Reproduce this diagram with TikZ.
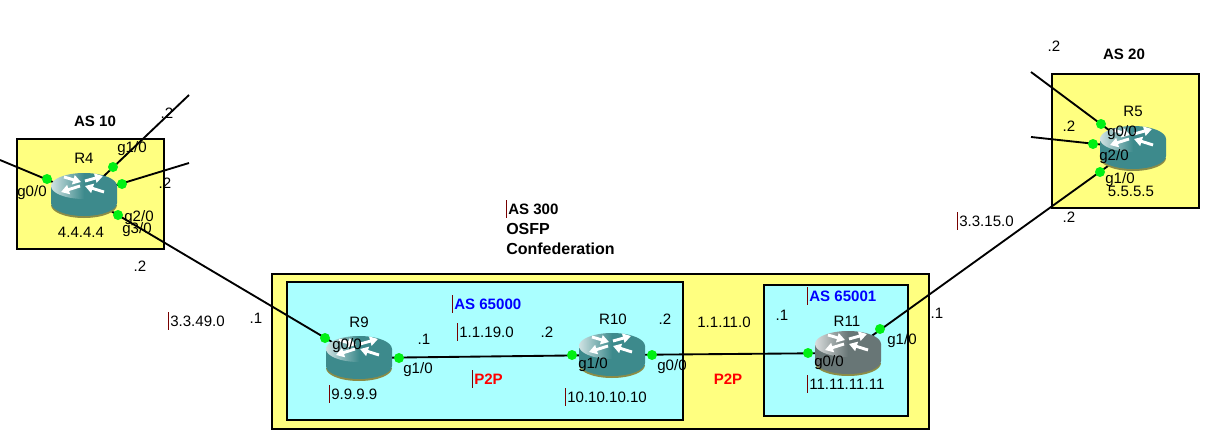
\documentclass[tikz,border=0pt]{standalone}
\usepackage{fontspec}
\setmainfont{Liberation Sans}
\usetikzlibrary{arrows.meta}
\definecolor{boxyellow}{RGB}{255,255,128}
\definecolor{boxcyan}{RGB}{170,255,255}
\definecolor{routerteal}{RGB}{61,138,140}
\definecolor{routergrey}{RGB}{104,118,118}
\definecolor{portgreen}{RGB}{0,240,20}
\definecolor{cursorred}{RGB}{120,0,0}
\newcommand{\curs}{\textcolor{cursorred}{\rule[-2.5pt]{0.5pt}{13pt}}\kern1pt}
\tikzset{
  area/.style={draw=black, line width=1.5pt, fill=#1},
  link/.style={draw=black, line width=1.4pt},
  port/.style={circle, fill=portgreen, inner sep=0pt, minimum size=7.5pt},
  lbl/.style={inner sep=0pt, font=\fontsize{11.3}{13}\selectfont},
  lblw/.style={lbl, anchor=west},
  head/.style={lbl, font=\fontsize{11.3}{13}\selectfont\bfseries},
  headw/.style={head, anchor=west},
  wide/.style={font=\fontsize{12}{14}\selectfont\bfseries},
  flow/.style={white, line width=2.2pt, -{Triangle[length=6pt,width=7pt]}},
  pics/routericon/.style={code={
    \fill[black!45!boxyellow] (-33,10) .. controls (-33,17.2) and (-18.2,23) .. (0,23) .. controls (18.2,23) and (33,17.2) .. (33,10) -- cycle;
    \fill[#1] (-33,-9) -- (-33,8) .. controls (-33,15.2) and (-18.2,21) .. (0,21) .. controls (18.2,21) and (33,15.2) .. (33,8) -- (33,-9) -- cycle;
    \shade[left color=white!75!#1, right color=#1, middle color=#1] (0,-9) ellipse [x radius=33, y radius=13];
    \draw[flow] (-20,-18) -- (-3,-13);
    \draw[flow] (1,-14) -- (19,-19);
    \draw[flow] (-4,-9) -- (-23,-3);
    \draw[flow] (20,-3) -- (1,-9);
  }},
}
\begin{document}
\begin{tikzpicture}[x=0.75pt, y=-0.75pt]
\useasboundingbox (0,0) rectangle (1221,435);
% areas
\draw[area=boxyellow] (17,139) rectangle (164,249);
\draw[area=boxyellow] (1052,74) rectangle (1199,208);
\draw[area=boxyellow] (272,274) rectangle (929,429);
\draw[area=boxcyan] (287,282) rectangle (683,420);
\draw[area=boxcyan] (764,285) rectangle (908,416);
% router centres and free ends
\coordinate (R4) at (84,195);
\coordinate (R5) at (1133,148);
\coordinate (R9) at (359,358);
\coordinate (R10) at (612,355);
\coordinate (R11) at (848,353);
\coordinate (endA) at (0,160);
\coordinate (endB) at (189,95);
\coordinate (endC) at (189,163);
\coordinate (endD) at (1031,72);
\coordinate (endE) at (1031,137);
% links
\draw[link] (R4) -- (endA);
\draw[link] (R4) -- (endB);
\draw[link] (R4) -- (endC);
\draw[link] (R4) -- (R9);
\draw[link] (R5) -- (endD);
\draw[link] (R5) -- (endE);
\draw[link] (R5) -- (R11);
\draw[link] (R9) -- (R10);
\draw[link] (R10) -- (R11);
% routers
\pic at (R4) {routericon=routerteal};
\pic at (R5) {routericon=routerteal};
\pic at (R9) {routericon=routerteal};
\pic at (R10) {routericon=routerteal};
\pic at (R11) {routericon=routergrey};
% ports
\node[port] (p4a) at (47,179) {};
\node[port] (p4b) at (113,167) {};
\node[port] (p4c) at (122,184) {};
\node[port] (p4d) at (118,215) {};
\node[port] (p9a) at (325,338) {};
\node[port] (p9b) at (399,358) {};
\node[port] (p10a) at (572,355) {};
\node[port] (p10b) at (652,355) {};
\node[port] (p11a) at (808,353) {};
\node[port] (p11b) at (880,329) {};
\node[port] (p5a) at (1101,124) {};
\node[port] (p5b) at (1093,144) {};
\node[port] (p5c) at (1100,172) {};
% AS 10
\node[head] (as10) at (95,121) {AS 10};
\node[lbl] (nameR4) at (84,158) {R4};
\node[lbl] (if4b) at (132,149) {g1/0};
\node[lbl] (ip4b) at (167,113) {.2};
\node[lbl] (ip4c) at (165,183) {.2};
\node[lbl] (if4a) at (32,193) {g0/0};
\node[lbl] (if4c) at (139,218) {g2/0};
\node[lbl] (if4d) at (137,230) {g3/0};
\node[lbl] (lo4) at (81,232) {4.4.4.4};
\node[lbl] (ip4d) at (140,266) {.2};
\node[lblw] (net349) at (168,321) {\curs 3.3.49.0};
\node[lbl] (ip9a) at (256,318) {.1};
% AS 300
\node[headw] (as300) at (506,209) {\curs AS 300};
\node[headw, wide] (ospf) at (506,229) {OSFP};
\node[headw, wide] (confed) at (506,249) {Confederation};
% AS 65000
\node[headw, text=blue] (as65000) at (452,304) {\curs AS 65000};
\node[lbl] (nameR9) at (359,322) {R9};
\node[lbl] (if9a) at (347,346) {g0/0};
\node[lbl] (ip9b) at (424,339) {.1};
\node[lbl] (if9b) at (418,370) {g1/0};
\node[lblw] (net119) at (457,332) {\curs 1.1.19.0};
\node[lbl] (ip10a) at (547,332) {.2};
\node[headw, text=red] (p2pA) at (472,379) {\curs P2P};
\node[lblw] (lo9) at (329,394) {\curs 9.9.9.9};
\node[lbl] (nameR10) at (613,319) {R10};
\node[lbl] (ip10b) at (665,319) {.2};
\node[lbl] (if10a) at (593,365) {g1/0};
\node[lbl] (if10b) at (672,367) {g0/0};
\node[lblw] (lo10) at (565,397) {\curs 10.10.10.10};
% AS 65001
\node[lbl] (net111) at (724,322) {1.1.11.0};
\node[head, text=red] (p2pB) at (728,379) {P2P};
\node[headw, text=blue] (as65001) at (807,296) {\curs AS 65001};
\node[lbl] (ip11a) at (782,315) {.1};
\node[lbl] (nameR11) at (847,321) {R11};
\node[lbl] (if11b) at (902,341) {g1/0};
\node[lbl] (if11a) at (829,363) {g0/0};
\node[lblw] (lo11) at (807,384) {\curs 11.11.11.11};
\node[lbl] (ip11b) at (937,313) {.1};
% AS 20
\node[lbl] (ip5a) at (1054,46) {.2};
\node[head] (as20) at (1124,54) {AS 20};
\node[lbl] (nameR5) at (1133,111) {R5};
\node[lbl] (ip5b) at (1069,126) {.2};
\node[lbl] (if5a) at (1122,133) {g0/0};
\node[lbl] (if5b) at (1114,157) {g2/0};
\node[lbl] (if5c) at (1120,180) {g1/0};
\node[lbl] (lo5) at (1131,191) {5.5.5.5};
\node[lbl] (ip5c) at (1069,217) {.2};
\node[lblw] (net315) at (957,221) {\curs 3.3.15.0};
\end{tikzpicture}
\end{document}
